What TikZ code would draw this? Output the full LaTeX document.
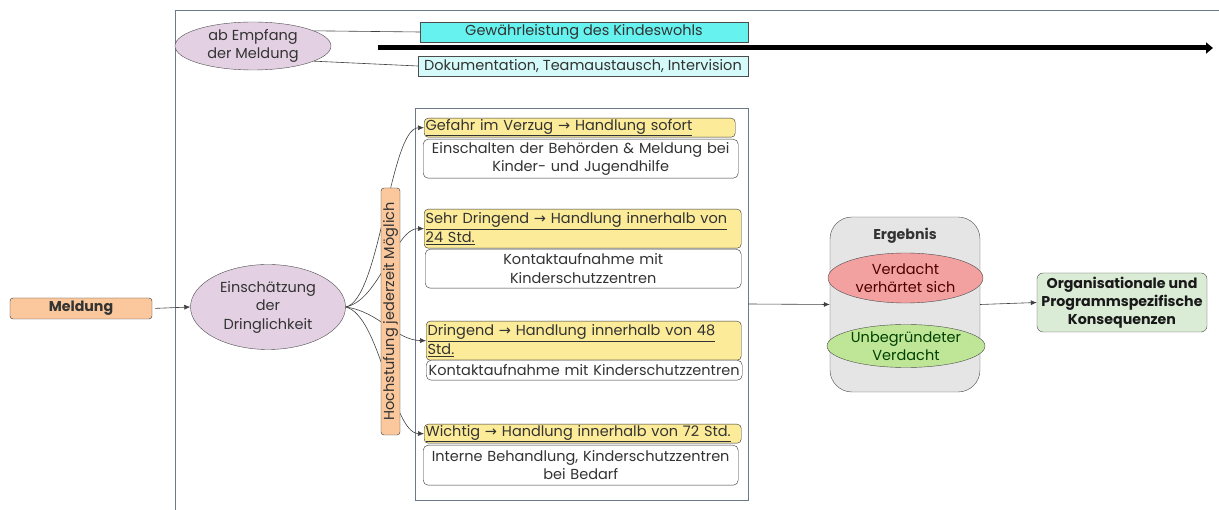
\documentclass[tikz,border=0pt]{standalone}
\usepackage{fontspec}
\setmainfont{Poppins}
\newfontfamily\arrowfont{DejaVu Sans}
\usetikzlibrary{shapes.geometric,arrows.meta}
\definecolor{peach}{HTML}{FAC89C}
\definecolor{lilac}{HTML}{E3D1E3}
\definecolor{cyanA}{HTML}{66F3F0}
\definecolor{cyanB}{HTML}{D4FAFA}
\definecolor{yel}{HTML}{FCEB98}
\definecolor{framec}{HTML}{6A7A8A}
\definecolor{graybox}{HTML}{E5E5E5}
\definecolor{redell}{HTML}{F2A0A0}
\definecolor{greenell}{HTML}{BEE696}
\definecolor{greenbox}{HTML}{DAEBD6}
\definecolor{txt}{HTML}{333333}
\newcommand{\ar}{{\arrowfont\char"2192}}
\tikzset{
  every node/.style={font=\fontsize{14.5}{18.5}\selectfont, text=txt},
  ell/.style={ellipse, draw=black!70, fill=lilac, inner sep=0pt, align=center},
  yelbox/.style={draw=black!80, fill=yel, rounded corners=4pt, inner xsep=1.5pt, inner ysep=0pt, align=left, anchor=north west},
  whitebox/.style={draw=black!80, fill=white, rounded corners=5pt, inner xsep=1.5pt, inner ysep=0pt, align=center, anchor=north west},
  cbox/.style={draw=black!70, inner sep=0pt, align=center},
  conn/.style={draw=black!75, line width=0.6pt},
  arr/.style={conn, -{Latex[length=6pt,width=5pt]}},
  boldtxt/.style={font=\fontsize{14.2}{18}\selectfont\bfseries},
}
\begin{document}
\begin{tikzpicture}[x=1pt,y=-1pt]
\useasboundingbox (0,0) rectangle (1219,510);
% frame
\coordinate (f0) at (175,510);
\coordinate (f1) at (175,10);
\coordinate (f2) at (1219,10);
\draw[framec, line width=0.8pt] (f0) -- (f1) -- (f2);

% top part
\node[ell, minimum width=156pt, minimum height=48pt] (emp) at (253,46) {ab Empfang\\der Meldung};
\node[cbox, fill=cyanA, minimum width=328pt, minimum height=20pt] (gew) at (584,32) {Gewährleistung des Kindeswohls};
\node[cbox, fill=cyanB, minimum width=330pt, minimum height=20pt] (dok) at (583,66) {Dokumentation, Teamaustausch, Intervision};
\draw[conn] (emp.14) -- (gew.west);
\draw[conn] (emp.-14) -- (dok.west);
\coordinate (tl0) at (378,48);
\coordinate (tl1) at (1213,48);
\draw[line width=5pt, -{Triangle[length=7pt,width=11pt]}] (tl0) -- (tl1);

% left part
\node[draw=black!80, fill=peach, rounded corners=3pt, minimum width=142pt, minimum height=21pt, inner sep=0pt, boldtxt] (meld) at (81,308.5) {Meldung};
\node[ell, minimum width=155pt, minimum height=85pt] (ein) at (268,307) {Einschätzung\\der\\Dringlichkeit};
\draw[arr, shorten <=3pt] (meld.east) -- (ein.west);

% panel
\node[draw=framec, line width=0.8pt, minimum width=333pt, minimum height=392pt, inner sep=0pt] (panel) at (581.5,304) {};

% boxes
\node[yelbox, text width=308pt, minimum height=19pt] (y1) at (424,118) {\underline{Gefahr im Verzug \ar{} Handlung sofort}};
\node[whitebox, text width=312pt, minimum height=39pt] (w1) at (423,139) {Einschalten der Behörden \& Meldung bei\\Kinder- und Jugendhilfe};
\node[yelbox, text width=314pt, minimum height=39pt] (y2) at (424,209) {\underline{Sehr Dringend \ar{} Handlung innerhalb von}\\\underline{24 Std.}};
\node[whitebox, text width=313pt, minimum height=39pt] (w2) at (425,249) {Kontaktaufnahme mit\\Kinderschutzzentren};
\node[yelbox, text width=312pt, minimum height=39pt] (y3) at (426,321) {\underline{Dringend \ar{} Handlung innerhalb von 48}\\\underline{Std.}};
\node[whitebox, text width=313pt, minimum height=20pt] (w3) at (426,360) {Kontaktaufnahme mit Kinderschutzzentren};
\node[yelbox, text width=314pt, minimum height=19pt] (y4) at (424,424) {\underline{Wichtig \ar{} Handlung innerhalb von 72 Std.}};
\node[whitebox, text width=312pt, minimum height=40pt] (w4) at (423,445) {Interne Behandlung, Kinderschutzzentren\\bei Bedarf};

% curves
\draw[arr] (ein.east) .. controls (380,300) and (390,128) .. (y1.west);
\draw[arr] (ein.east) .. controls (380,300) and (395,228) .. (y2.west);
\draw[arr] (ein.east) .. controls (380,312) and (395,340) .. (y3.west);
\draw[arr] (ein.east) .. controls (380,315) and (392,433) .. (y4.west);

% bar
\node[draw=black!80, fill=peach, rounded corners=3pt, rotate=90, minimum width=247pt, minimum height=19pt, inner sep=0pt] (bar) at (390.5,311.5) {Hochstufung jederzeit Möglich};

% result
\node[draw=black!70, fill=graybox, rounded corners=22pt, minimum width=150pt, minimum height=175pt, inner sep=0pt] (erg) at (905,304.5) {};
\node[boldtxt] (ergt) at (905,236) {Ergebnis};
\node[ell, fill=redell, minimum width=155pt, minimum height=50pt, text=red!30!black] (ver) at (905.5,278) {Verdacht\\verhärtet sich};
\node[ell, fill=greenell, minimum width=158pt, minimum height=43pt, text=green!25!black] (unb) at (906,346) {Unbegründeter\\Verdacht};
\draw[arr] (panel.east) -- (erg.west);

\node[draw=black!70, fill=greenbox, rounded corners=6pt, minimum width=170pt, minimum height=59pt, inner sep=0pt, align=center, boldtxt, text=black!90] (org) at (1122,302.5) {Organisationale und\\Programmspezifische\\Konsequenzen};
\draw[arr] (erg.east) -- (org.west);
\end{tikzpicture}
\end{document}
